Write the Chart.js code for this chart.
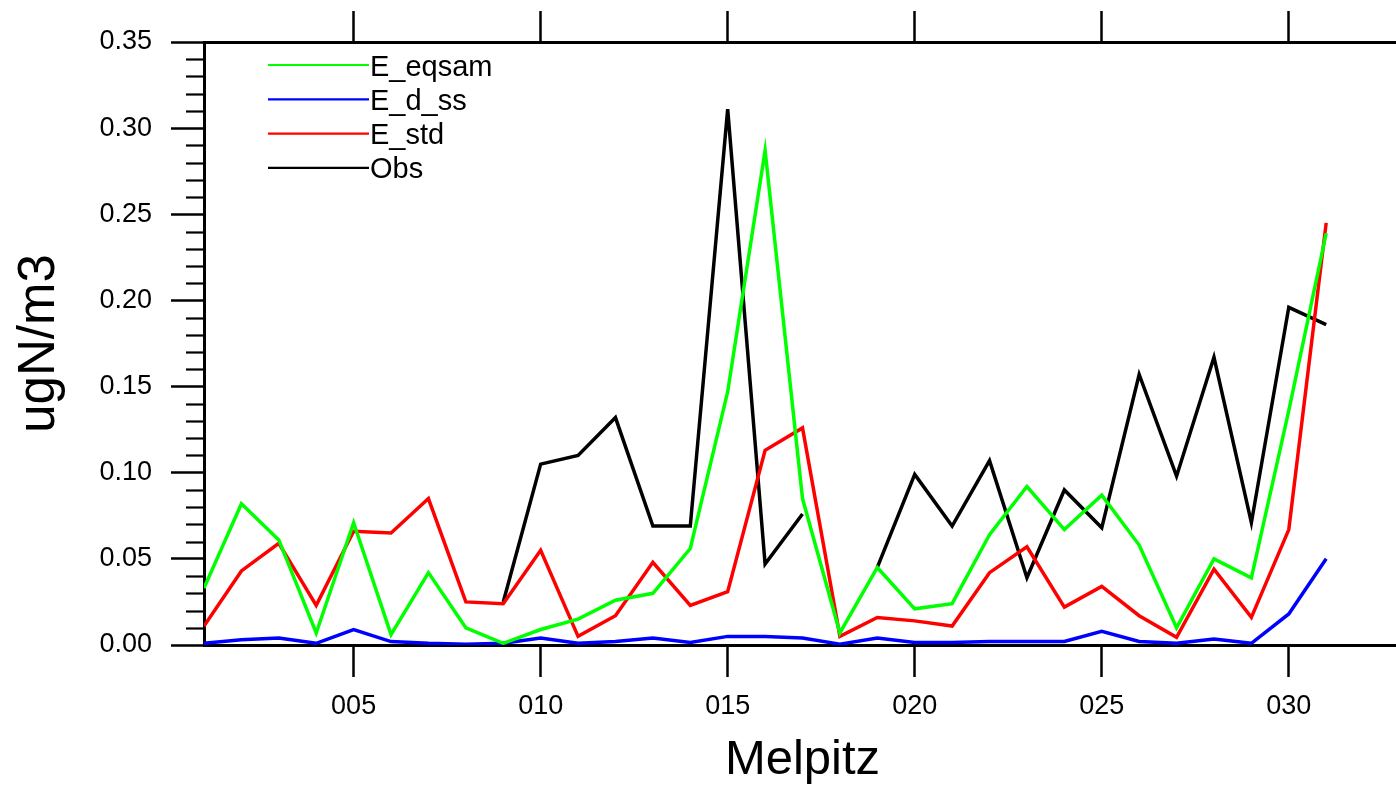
<!DOCTYPE html>
<html>
<head>
<meta charset="utf-8">
<script src="https://cdn.jsdelivr.net/npm/chart.js@4/dist/chart.umd.min.js"></script>
<style>
  html, body { margin:0; padding:0; background:#fff; overflow:hidden; }
  canvas { display:block; }
</style>
</head>
<body>
<canvas id="chart-melpitz" width="1410" height="794"></canvas>
<script>
/* ---------- data ---------- */
const days = [1,2,3,4,5,6,7,8,9,10,11,12,13,14,15,16,17,18,19,20,21,22,23,24,25,26,27,28,29,30,31];

const eEqsam = [0.033,0.082,0.061,0.007,0.071,0.006,0.042,0.010,0.001,0.009,0.015,0.026,0.030,0.056,
                0.147,0.287,0.085,0.007,0.045,0.021,0.024,0.064,0.092,0.067,0.087,0.058,0.010,0.050,0.039,0.136,0.239];
const eDss   = [0.001,0.003,0.004,0.001,0.009,0.002,0.001,0.0005,0.001,0.004,0.001,0.002,0.004,0.0015,
                0.005,0.005,0.004,0.0005,0.004,0.0015,0.0015,0.002,0.002,0.002,0.008,0.002,0.001,0.0035,0.001,0.018,0.050];
const eStd   = [0.011,0.043,0.059,0.023,0.066,0.065,0.085,0.025,0.024,0.055,0.005,0.017,0.048,0.023,
                0.031,0.113,0.126,0.005,0.016,0.014,0.011,0.042,0.057,0.022,0.034,0.017,0.0045,0.044,0.016,0.067,0.245];
const obs    = [null,null,null,null,null,null,null,null,0.025,0.105,0.110,0.132,0.069,0.069,
                0.311,0.047,0.076,null,0.045,0.099,0.069,0.107,0.039,0.090,0.068,0.157,0.098,0.167,0.071,0.196,0.186];

const seriesNames  = ['E_eqsam','E_d_ss','E_std','Obs'];
const seriesColors = ['#00ff00','#0000ff','#ff0000','#000000'];

const xTickValues = [5,10,15,20,25,30];
const xTickLabels = ['005','010','015','020','025','030'];
const yTickValues = [0,0.05,0.10,0.15,0.20,0.25,0.30,0.35];
const yTickLabels = ['0.00','0.05','0.10','0.15','0.20','0.25','0.30','0.35'];

/* ---------- helpers ---------- */
const toPts = arr => arr.map((v,i) => ({ x: days[i], y: v }));
const FONT = "'Liberation Sans', Arial, Helvetica, sans-serif";
Chart.defaults.font.family = FONT;
Chart.defaults.color = '#000';

// minor ticks on the left axis (every 0.01)
const minorTicks = {
  id: 'minorTicks',
  afterDraw(chart) {
    const ys = chart.scales.y, a = chart.chartArea, ctx = chart.ctx;
    ctx.save();
    ctx.strokeStyle = '#000';
    ctx.lineWidth = 2.2;
    for (let k = 0; k <= 35; k++) {
      if (k % 5 === 0) continue;
      const py = Math.round(ys.getPixelForValue(k / 100)) + 0.5;
      ctx.beginPath();
      ctx.moveTo(a.left - 18, py);
      ctx.lineTo(a.left, py);
      ctx.stroke();
    }
    ctx.restore();
  }
};

// NCL style legend inside the plot
const lineLegend = {
  id: 'lineLegend',
  afterDraw(chart) {
    const a = chart.chartArea, ctx = chart.ctx;
    ctx.save();
    ctx.font = '29px ' + FONT;
    ctx.textBaseline = 'alphabetic';
    chart.data.datasets.forEach((ds, i) => {
      const y = a.top + 23 + i * 34.3;
      ctx.strokeStyle = ds.borderColor;
      ctx.lineWidth = 2.2;
      ctx.beginPath();
      ctx.moveTo(a.left + 64, y);
      ctx.lineTo(a.left + 165, y);
      ctx.stroke();
      ctx.fillStyle = '#000';
      ctx.fillText(ds.label, a.left + 166, y + 10.5);
    });
    ctx.restore();
  }
};

const gridOpts = (len) => ({ drawOnChartArea:false, drawTicks:true, tickLength:len, tickWidth:2.5, tickColor:'#000', color:'#000' });
const borderOpts = { display:true, color:'#000', width:3 };

new Chart(document.getElementById('chart-melpitz'), {
  type: 'line',
  data: {
    datasets: [
      { label: seriesNames[0], data: toPts(eEqsam), borderColor: seriesColors[0] },
      { label: seriesNames[1], data: toPts(eDss),   borderColor: seriesColors[1] },
      { label: seriesNames[2], data: toPts(eStd),   borderColor: seriesColors[2] },
      { label: seriesNames[3], data: toPts(obs),    borderColor: seriesColors[3] }
    ].map(d => Object.assign(d, { borderWidth:3.5, pointRadius:0, tension:0, spanGaps:false, fill:false }))
  },
  options: {
    responsive: false,
    animation: false,
    devicePixelRatio: 1,
    layout: { padding: { left:0, top:0, right:9, bottom:0 } },
    plugins: { legend: { display:false }, tooltip: { enabled:false } },
    scales: {
      x: {
        type: 'linear', position: 'bottom', min: 1, max: 33,
        afterBuildTicks: s => { s.ticks = xTickValues.map(v => ({ value: v })); },
        afterFit: s => { s.height = 149; },
        ticks: { callback: (v, i) => xTickLabels[i], font: { size: 27 }, padding: 13, maxRotation: 0 },
        grid: gridOpts(32),
        border: borderOpts,
        title: { display: true, text: 'Melpitz', font: { size: 49 }, padding: { top: 0, bottom: 4 } }
      },
      xTop: {
        type: 'linear', position: 'top', min: 1, max: 33,
        afterBuildTicks: s => { s.ticks = xTickValues.map(v => ({ value: v })); },
        afterFit: s => { s.height = 42; },
        ticks: { display: false },
        grid: gridOpts(31),
        border: borderOpts
      },
      y: {
        type: 'linear', position: 'left', min: 0, max: 0.35,
        afterBuildTicks: s => { s.ticks = yTickValues.map(v => ({ value: v })); },
        afterFit: s => { s.width = 204; },
        ticks: { callback: (v, i) => yTickLabels[i], font: { size: 27 }, padding: 19 },
        grid: gridOpts(33),
        border: borderOpts,
        title: { display: true, text: 'ugN/m3', font: { size: 51 }, padding: { top: 9, bottom: 0 } }
      }
    }
  },
  plugins: [minorTicks, lineLegend]
});
</script>
</body>
</html>
